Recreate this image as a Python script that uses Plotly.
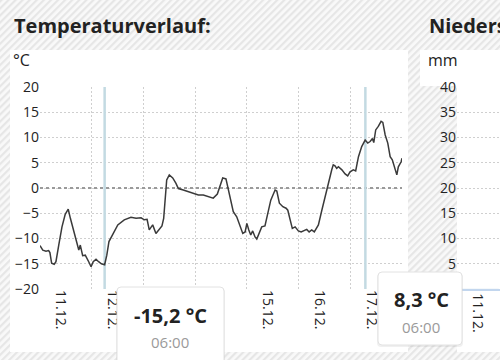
import base64
import pandas as pd
import plotly.graph_objects as go

# ---------------- data ----------------
start_date = "2022-12-11"
day_labels = ["11.12.", "12.12.", "13.12.", "14.12.", "15.12.", "16.12.", "17.12.", ""]

hours = [0, 1.3, 2.8, 4.0, 4.6, 5.4, 6.6, 7.4, 8.7, 10.2, 11.7, 13.1, 14.1, 15.6, 17.2, 18.0,
         18.7, 19.8, 21.0, 22.6, 23.7, 24.7, 26.0, 27.2, 28.5, 30.0, 31.0, 32.0, 33.7, 36.1,
         39.1, 42.2, 44.6, 46.9, 48.4, 49.7, 50.7, 52.3, 53.8, 55.1, 56.6, 57.4, 57.9, 58.8,
         60.0, 61.6, 63.1, 64.2, 66.5, 68.8, 71.2, 73.5, 75.8, 78.1, 80.4, 82.3, 83.9, 84.8,
         86.3, 87.4, 88.5, 89.7, 91.3, 92.8, 94.1, 95.2, 96.0, 96.9, 97.8, 98.7, 99.8, 100.6,
         101.8, 102.9, 104.4, 105.5, 107.1, 109.1, 109.9, 111.1, 112.7, 114.2, 115.0, 116.1,
         117.1, 118.4, 119.9, 121.2, 122.7, 123.8, 124.9, 126.1, 127.3, 128.4, 129.2, 130.8,
         132.3, 133.8, 135.4, 136.1, 136.9, 137.7, 138.5, 140.1, 141.6, 142.8, 143.9, 145.4,
         146.5, 147.8, 149.3, 150.9, 152.1, 153.2, 154.3, 154.9, 155.8, 157.0, 158.3, 159.1,
         160.2, 161.4, 162.5, 163.5, 164.8, 165.6, 166.3, 167.6, 168.0]

temps = [-11.4, -12.3, -12.5, -12.4, -12.8, -14.9, -15.1, -14.6, -11.3, -7.7, -5.2, -4.2, -6.0,
         -8.7, -11.0, -12.3, -11.3, -13.4, -13.3, -14.6, -15.6, -14.6, -14.1, -14.6, -15.0,
         -15.2, -13.3, -10.6, -9.3, -7.3, -6.3, -5.8, -6.0, -5.9, -6.3, -6.2, -8.3, -7.3, -9.0,
         -8.3, -7.5, -6.0, -3.4, 1.6, 2.6, 2.0, 0.9, -0.1, -0.4, -0.7, -1.1, -1.4, -1.4, -1.7,
         -2.0, -1.2, 0.9, 2.0, 1.8, -0.4, -2.7, -4.7, -5.7, -7.7, -9.0, -8.7, -7.0, -8.3, -9.3,
         -8.5, -9.7, -10.1, -9.0, -7.7, -7.5, -5.4, -2.4, -0.4, -0.6, -3.0, -3.7, -4.0, -4.4,
         -6.3, -8.0, -7.7, -8.5, -8.7, -8.5, -8.2, -8.7, -8.3, -8.7, -8.0, -7.3, -4.4, -1.7,
         1.3, 3.6, 4.6, 4.4, 3.9, 4.2, 3.6, 2.8, 2.4, 3.2, 3.6, 3.4, 6.2, 8.2, 9.5, 8.9, 9.2,
         9.8, 9.0, 11.5, 12.2, 13.2, 13.0, 10.5, 8.9, 6.2, 5.6, 3.9, 2.6, 4.2, 5.2, 5.9]

temp_ticks = [-20, -15, -10, -5, 0, 5, 10, 15, 20]
precip_days = ["11.12.", "12.12.", "13.12.", "14.12.", "15.12.", "16.12.", "17.12."]
precip_mm = [0, 0, 0, 0, 0, 0, 0]
precip_ticks = [0, 5, 10, 15, 20, 25, 30, 35, 40]

tooltip_hours = [30, 151]
tooltip_values = ["-15,2", "8,3"]
tooltip_times = ["06:00", "06:00"]

# ---------------- helpers ----------------
W, H = 500, 360
t0 = pd.Timestamp(start_date)
times = [t0 + pd.Timedelta(hours=h) for h in hours]
day_ticks = [t0 + pd.Timedelta(days=i) for i in range(len(day_labels))]


def px(x):
    return x / W


def py(y):
    return 1 - y / H


def rrect_path(x0, y0, x1, y1, r=4):
    rx, ry = r, r
    pts = [
        f"M{px(x0 + rx)},{py(y0)}", f"L{px(x1 - rx)},{py(y0)}",
        f"Q{px(x1)},{py(y0)} {px(x1)},{py(y0 + ry)}", f"L{px(x1)},{py(y1 - ry)}",
        f"Q{px(x1)},{py(y1)} {px(x1 - rx)},{py(y1)}", f"L{px(x0 + rx)},{py(y1)}",
        f"Q{px(x0)},{py(y1)} {px(x0)},{py(y1 - ry)}", f"L{px(x0)},{py(y0 + ry)}",
        f"Q{px(x0)},{py(y0)} {px(x0 + rx)},{py(y0)}", "Z",
    ]
    return " ".join(pts)


svg = (
    f'<svg xmlns="http://www.w3.org/2000/svg" width="{W}" height="{H}">'
    '<defs><pattern id="p" width="5" height="5" patternUnits="userSpaceOnUse" '
    'patternTransform="rotate(45)">'
    '<rect width="5" height="5" fill="#f9f9f9"/><rect width="2.2" height="5" fill="#e6e6e6"/>'
    '</pattern></defs>'
    f'<rect width="{W}" height="{H}" fill="url(#p)"/></svg>'
)
bg_uri = "data:image/svg+xml;base64," + base64.b64encode(svg.encode()).decode()

FONT = "Open Sans"
TXT = "#222222"
GRID = "#cfcfcf"

fig = go.Figure()
fig.add_trace(go.Scatter(
    x=times, y=temps, mode="lines",
    line=dict(color="#3a3a3a", width=1.5),
    xaxis="x", yaxis="y", hoverinfo="skip", showlegend=False,
))
fig.add_trace(go.Bar(
    x=precip_days, y=precip_mm, xaxis="x2", yaxis="y2",
    marker_color="#5b9bd5", hoverinfo="skip", showlegend=False,
))

ydom = [py(289), py(87)]

shapes = [
    dict(type="rect", xref="paper", yref="paper", x0=px(10), x1=px(408), y0=py(352), y1=py(50),
         fillcolor="white", line_width=0, layer="below"),
    dict(type="rect", xref="paper", yref="paper", x0=px(420), x1=1, y0=py(86), y1=py(50),
         fillcolor="white", line_width=0, layer="below"),
    dict(type="rect", xref="paper", yref="paper", x0=px(457), x1=1, y0=py(352), y1=py(86),
         fillcolor="white", line_width=0, layer="below"),
    dict(type="line", xref="x", yref="y", x0=day_ticks[0], x1=day_ticks[-1], y0=0, y1=0,
         line=dict(color="#9a9a9a", width=2, dash="3px,3px"), layer="between"),
]
for h in tooltip_hours:
    tx = t0 + pd.Timedelta(hours=h)
    shapes.append(dict(type="line", xref="x", yref="y", x0=tx, x1=tx, y0=-20, y1=20,
                       line=dict(color="#c3dae2", width=2.5), layer="between"))

tip_boxes = [(117, 287, 224, 366), (378, 272, 462, 345)]
for (x0, y0, x1, y1) in tip_boxes:
    shapes.append(dict(type="path", xref="paper", yref="paper",
                       path=rrect_path(x0 - 1, y0 + 1, x1 + 1, y1 + 2),
                       fillcolor="rgba(0,0,0,0.06)", line_width=0, layer="above"))
    shapes.append(dict(type="path", xref="paper", yref="paper",
                       path=rrect_path(x0, y0, x1, y1),
                       fillcolor="white", line=dict(color="#e2e2e2", width=1), layer="above"))

annotations = [
    dict(text="Temperaturverlauf:", x=px(12), y=py(26), xref="paper", yref="paper",
         xanchor="left", yanchor="middle", showarrow=False,
         font=dict(family=FONT, size=20, color=TXT, weight=700)),
    dict(text="Niederschlag:", x=px(427), y=py(26), xref="paper", yref="paper",
         xanchor="left", yanchor="middle", showarrow=False,
         font=dict(family=FONT, size=20, color=TXT, weight=700)),
    dict(text="°C", x=px(11), y=py(60), xref="paper", yref="paper",
         xanchor="left", yanchor="middle", showarrow=False,
         font=dict(family=FONT, size=16, color=TXT)),
    dict(text="mm", x=px(426), y=py(60), xref="paper", yref="paper",
         xanchor="left", yanchor="middle", showarrow=False,
         font=dict(family=FONT, size=16, color=TXT)),
]
tip_text_pos = [(170, 315, 342), (421, 299, 327)]
for (cx, vy, ty), val, tm in zip(tip_text_pos, tooltip_values, tooltip_times):
    annotations.append(dict(text=f"{val} °C", x=px(cx), y=py(vy), xref="paper", yref="paper",
                            xanchor="center", yanchor="middle", showarrow=False,
                            font=dict(family=FONT, size=20, color=TXT, weight=700)))
    annotations.append(dict(text=tm, x=px(cx), y=py(ty), xref="paper", yref="paper",
                            xanchor="center", yanchor="middle", showarrow=False,
                            font=dict(family=FONT, size=15, color="#9a9a9a")))

fig.update_layout(
    width=W, height=H, autosize=False,
    margin=dict(l=0, r=0, t=0, b=0, pad=0, autoexpand=False),
    paper_bgcolor="white", plot_bgcolor="white",
    font=dict(family=FONT, color=TXT),
    showlegend=False,
    images=[dict(source=bg_uri, xref="paper", yref="paper", x=0, y=1, sizex=1, sizey=1,
                 xanchor="left", yanchor="top", sizing="stretch", layer="below")],
    shapes=shapes,
    annotations=annotations,
    xaxis=dict(
        domain=[px(40), px(402)], anchor="y", type="date", automargin=False,
        range=[day_ticks[0], day_ticks[-1]],
        tickmode="array", tickvals=day_ticks, ticktext=day_labels,
        tickangle=90, ticklabelshift=21, ticks="",
        showgrid=True, gridcolor=GRID, gridwidth=1, griddash="2px,2px",
        zeroline=False, showline=False,
        tickfont=dict(family=FONT, size=14, color=TXT),
    ),
    yaxis=dict(
        domain=ydom, anchor="x", range=[-20, 20], automargin=False,
        tickmode="array", tickvals=temp_ticks, ticks="",
        showgrid=True, gridcolor=GRID, gridwidth=1, griddash="2px,2px",
        zeroline=False, showline=False,
        tickfont=dict(family=FONT, size=14, color=TXT),
    ),
    xaxis2=dict(
        domain=[px(457), 1], anchor="y2", type="category", automargin=False,
        range=[-0.406, 0.426], tickangle=90, ticks="",
        showgrid=False, zeroline=False,
        showline=True, linecolor="#c2d6ee", linewidth=1.5,
        tickfont=dict(family=FONT, size=14, color=TXT),
    ),
    yaxis2=dict(
        domain=ydom, anchor="x2", range=[0, 40], automargin=False,
        tickmode="array", tickvals=precip_ticks, ticks="",
        showgrid=True, gridcolor=GRID, gridwidth=1, griddash="2px,2px",
        zeroline=False, showline=False,
        tickfont=dict(family=FONT, size=14, color=TXT),
    ),
)

page_fix = (
    "var de=document.documentElement,b=document.body;"
    "de.style.margin='0';de.style.padding='0';de.style.overflow='hidden';"
    "b.style.margin='0';b.style.padding='0';b.style.overflow='hidden';"
    "var gd=document.getElementById('{plot_id}');"
    "gd.style.position='fixed';gd.style.left='0px';gd.style.top='0px';"
    "gd.style.overflow='hidden';"
)

fig.write_html("out.html", post_script=page_fix,
               config={"displayModeBar": False, "staticPlot": True})
